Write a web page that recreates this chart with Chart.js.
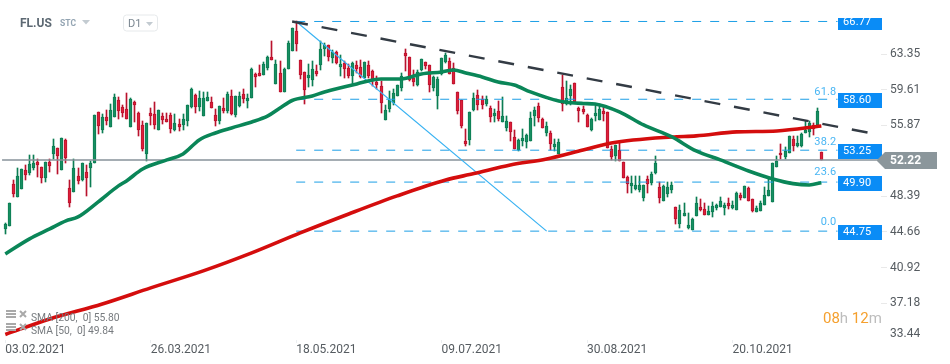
<!DOCTYPE html>
<html><head><meta charset="utf-8">
<style>html,body{margin:0;padding:0;background:#fff}canvas{display:block}</style>
<script src="https://cdn.jsdelivr.net/npm/chart.js@4"></script>
</head><body><canvas id="c" width="950" height="364"></canvas>
<script>
const opens=[
45.01,45.33,49.67,48.37,49.21,51.14,50.89,51.42,52.02,51.49,
50.37,52.02,52.89,53.45,51.21,54.29,49.25,48.90,50.51,50.16,
50.93,51.42,51.94,57.23,55.41,56.74,55.72,56.74,58.53,57.79,
57.58,55.69,58.32,57.16,55.90,52.86,57.16,57.05,55.41,56.85,
56.53,56.95,55.37,56.00,55.90,56.32,57.79,59.05,57.79,56.85,
58.42,58.28,56.92,56.32,57.65,57.37,58.95,56.92,57.86,59.12,
58.42,58.77,61.22,61.36,61.18,61.85,63.04,60.24,61.36,59.40,
61.81,63.67,65.77,62.69,61.43,60.83,60.63,61.57,62.20,63.88,
64.30,62.93,63.56,61.99,62.41,61.88,61.05,62.20,61.99,60.83,
62.20,61.57,60.41,60.00,56.43,57.58,58.21,58.95,59.79,63.46,
63.04,60.83,60.10,61.68,62.52,62.20,59.79,58.95,61.25,62.52,
62.62,61.88,59.37,58.53,54.22,54.32,57.47,59.05,58.63,58.11,
57.69,56.85,57.37,56.22,55.59,56.22,54.64,53.27,54.22,54.11,
54.22,56.85,57.90,56.53,55.06,55.06,53.59,52.86,59.89,58.11,
58.95,60.31,57.69,57.58,56.95,55.37,56.85,56.43,57.37,57.27,
53.38,52.65,53.27,52.02,50.44,49.50,49.18,49.07,48.24,50.23,
49.81,50.86,49.39,47.92,48.66,49.07,47.29,45.50,46.34,45.09,
44.88,46.34,47.29,47.08,46.45,46.76,47.19,47.29,47.19,47.71,
47.19,46.97,48.55,48.24,49.29,48.13,46.76,46.87,47.50,48.44,
47.82,51.49,52.96,52.54,52.96,54.43,53.70,53.70,55.06,55.17,
55.90,55.90,53.07];
const highs=[
45.58,47.68,50.09,51.39,51.25,51.70,52.75,52.75,52.30,51.49,
52.02,52.30,54.40,53.45,54.50,54.40,50.09,52.30,51.35,51.94,
51.70,52.12,56.92,57.27,57.05,57.47,58.10,59.12,58.84,57.97,
59.23,58.74,58.42,57.27,56.32,56.11,57.69,58.32,57.47,57.16,
57.16,57.16,57.05,56.53,57.05,58.00,59.79,59.16,59.47,59.37,
59.37,58.84,57.61,57.90,58.70,59.40,59.54,58.95,59.37,59.68,
59.12,61.85,61.33,62.17,62.52,63.15,64.72,62.69,62.62,61.85,
64.72,66.05,66.77,62.73,61.46,62.27,62.62,62.20,64.72,64.51,
64.30,63.77,63.67,63.25,62.62,62.30,62.52,62.62,62.73,62.52,
62.62,61.68,61.05,60.52,58.00,59.47,59.68,60.10,61.36,63.88,
63.04,61.68,61.68,62.83,62.52,62.20,61.05,60.94,62.94,63.46,
62.94,62.41,59.37,58.53,55.48,57.27,59.26,59.57,58.95,58.95,
57.90,57.58,58.42,58.84,56.85,56.22,55.37,54.43,55.48,54.95,
57.27,57.79,58.21,56.63,56.22,55.27,54.43,54.43,61.15,60.52,
60.10,60.31,57.79,57.90,57.05,56.63,58.00,58.11,57.79,57.27,
53.70,53.80,54.12,52.02,50.55,50.55,50.55,50.55,49.60,50.55,
50.97,52.65,49.92,49.60,49.92,49.92,47.29,47.50,47.71,46.66,
46.13,48.34,48.13,47.71,47.39,47.82,47.61,48.34,47.71,48.24,
47.92,48.87,48.76,49.50,49.39,48.13,47.39,47.92,49.39,50.23,
51.91,52.65,53.90,53.59,54.75,54.75,54.75,55.06,56.32,56.32,
56.11,57.69,53.07];
const lows=[
44.42,45.33,48.37,48.37,49.21,50.09,50.65,51.17,50.47,49.84,
49.95,51.00,52.30,50.79,51.21,51.91,47.32,48.90,49.74,50.05,
48.48,49.42,51.94,54.99,55.09,55.90,55.72,56.74,56.53,56.74,
56.53,55.69,56.22,54.75,53.17,52.12,55.90,55.48,55.41,56.00,
56.22,55.06,55.30,55.27,55.37,55.83,57.69,57.16,57.37,56.85,
58.42,57.65,55.79,55.97,57.19,57.19,56.92,56.77,57.82,58.18,
57.69,58.77,59.92,61.05,61.18,61.68,62.73,60.17,59.40,59.40,
61.81,63.67,63.67,60.70,58.10,59.92,60.00,61.05,61.67,63.15,
62.62,62.41,62.30,61.05,60.83,60.83,60.21,61.36,60.83,60.83,
60.83,59.99,59.68,57.16,56.43,57.27,58.00,58.95,59.47,61.57,
60.52,59.99,59.99,61.57,61.78,59.37,59.47,57.58,61.15,62.41,
61.25,60.21,57.05,55.58,53.69,53.80,57.37,57.47,57.58,57.90,
56.22,56.22,56.32,56.22,55.27,54.22,53.38,53.17,53.69,53.48,
54.22,55.79,56.22,55.59,54.75,53.27,53.17,52.86,57.37,58.00,
58.00,58.21,56.22,57.05,55.69,55.27,56.32,56.43,56.32,53.49,
52.23,52.12,52.12,50.34,48.76,48.76,49.07,48.87,47.92,48.76,
49.60,50.76,47.71,47.92,48.34,48.76,45.50,45.09,46.34,44.98,
44.88,46.34,46.87,46.45,46.45,46.24,46.97,47.29,46.45,47.08,
47.08,46.97,48.03,48.24,47.92,46.76,46.76,46.87,47.50,48.44,
47.82,51.49,52.33,52.33,52.96,53.17,53.59,53.59,55.06,54.64,
54.85,55.69,52.22];
const closes=[
45.47,47.68,48.69,50.51,51.25,50.68,51.80,51.91,51.73,50.37,
52.02,51.63,53.66,52.68,54.50,52.47,47.74,51.35,50.05,51.88,
50.37,51.88,56.92,55.83,56.74,56.32,57.47,58.84,57.37,57.16,
56.53,58.63,58.00,55.41,53.38,56.11,56.85,55.90,57.47,56.43,
56.22,55.48,56.11,55.69,56.53,58.00,59.68,57.79,58.74,58.74,
58.84,57.72,56.32,57.86,57.37,59.12,57.02,58.95,58.95,58.66,
58.70,61.78,60.97,61.05,62.27,63.01,62.73,62.27,59.40,61.75,
64.48,66.05,64.44,61.12,59.61,61.12,61.78,61.25,63.88,64.30,
63.04,63.56,62.41,62.30,61.78,61.05,62.41,61.78,60.94,62.52,
61.05,60.52,60.10,58.21,57.47,58.53,59.26,60.10,61.05,63.15,
60.63,60.41,61.46,62.83,62.10,60.10,60.94,60.73,62.94,63.25,
61.25,60.21,57.37,55.79,53.90,57.27,58.74,58.00,58.00,58.63,
56.74,57.16,56.53,56.85,56.32,55.17,53.38,54.32,54.53,54.85,
56.63,57.47,56.63,55.59,55.80,53.90,53.90,54.12,58.11,58.74,
59.68,58.32,57.37,57.27,55.69,56.53,57.16,57.58,57.05,53.49,
52.54,53.80,52.12,50.34,49.70,49.81,49.60,49.60,49.60,49.70,
50.76,51.91,48.24,49.50,49.39,49.60,46.03,46.97,46.66,45.40,
46.03,47.71,46.97,46.45,46.87,47.39,47.50,47.92,47.50,47.39,
47.50,48.76,48.24,49.50,47.92,46.87,47.19,47.71,48.55,49.07,
51.91,52.12,52.75,53.17,54.75,53.70,54.01,54.95,55.37,56.11,
55.48,57.37,52.22];

const sma50Idx=[0,6,11,15,18,23,28,30,34,40,44,48,52,56,61,65,68,71,76,79,87,93,98,103,108,111,114,118,122,126,130,137,143,146,152,158,165,171,177,184,190,195,199,202];
const sma50Val=[42.35,43.93,44.98,45.82,46.24,47.82,49.50,50.02,51.28,52.23,52.86,54.33,55.06,55.59,56.21,56.85,57.68,58.47,58.95,59.37,60.21,60.73,60.73,61.26,61.47,61.68,61.36,60.94,60.42,60.10,59.37,58.42,58.16,58.10,57.27,55.90,54.64,53.17,52.23,51.07,50.23,49.74,49.60,49.84];
const sma200Idx=[0,11,24,36,49,61,73,85,97,109,116,125,134,143,150,165,171,181,191,202];
const sma200Val=[33.90,35.53,37.10,38.79,40.57,42.46,44.56,46.55,48.45,50.12,50.79,51.70,52.33,53.27,54.01,54.64,54.75,55.17,55.27,55.80];

const trendIdx=[71,213.5];
const trendVal=[66.77,55.10];
const fibDiagIdx=[72,134];
const fibDiagVal=[66.77,44.75];
const fibLevels=[66.77,58.60,53.25,49.90,44.75];
const fibRatios=['','61.8','38.2','23.6','0.0'];
const fibSpan=[72,206];
const lastPrice=52.22;
const priceSpan=[-0.8,216];
const yTicks=[63.35,59.61,55.87,48.39,44.66,40.92,37.18];
const yBottomTick=33.44;
const dateIdx=[0,36,72,108,144,180];
const dateLabels=['03.02.2021','26.03.2021','18.05.2021','09.07.2021','30.08.2021','20.10.2021'];

const GUP='#0c7d53',GUPF='#178f62',RDN='#b9122d',RDNF='#de1f39';
const up=closes.map((c,i)=>c>=opens[i]);
const wickData=highs.map((h,i)=>({x:i,y:[lows[i],h]}));
const bodyData=opens.map((o,i)=>({x:i,y:[Math.min(o,closes[i]),Math.max(o,closes[i])]}));
const pairs=(xs,ys)=>xs.map((x,i)=>({x:x,y:ys[i]}));
const lineBase={type:'line',pointRadius:0,fill:false,borderCapStyle:'butt'};
const datasets=[
 {type:'bar',data:wickData,barThickness:1,grouped:false,backgroundColor:up.map(u=>u?GUP:RDN),borderWidth:0,order:6},
 {type:'bar',data:bodyData,barThickness:3,grouped:false,backgroundColor:up.map(u=>u?GUPF:RDNF),borderColor:up.map(u=>u?GUP:RDN),borderWidth:1,borderSkipped:false,order:5},
 ...fibLevels.map(v=>({...lineBase,data:pairs(fibSpan,[v,v]),borderColor:'#1c9fe6',borderWidth:1,borderDash:[9,9],order:4})),
 {...lineBase,data:pairs(priceSpan,[lastPrice,lastPrice]),borderColor:'#87929a',borderWidth:1.3,order:3.5},
 {...lineBase,data:pairs(fibDiagIdx,fibDiagVal),borderColor:'#38b2f2',borderWidth:1.2,order:3},
 {...lineBase,data:pairs(sma200Idx,sma200Val),borderColor:'#d40d0d',borderWidth:3.6,cubicInterpolationMode:'monotone',order:2},
 {...lineBase,data:pairs(sma50Idx,sma50Val),borderColor:'#0a8658',borderWidth:3.6,cubicInterpolationMode:'monotone',order:1.5},
 {...lineBase,data:pairs(trendIdx,trendVal),borderColor:'#333b44',borderWidth:2.4,borderDash:[16,14],order:1}
];

const snap={id:'snap',beforeDatasetsDraw(ch){
 ch.data.datasets.forEach((d,i)=>{ if(d.type!=='bar')return;
  ch.getDatasetMeta(i).data.forEach(el=>{el.x=Math.floor(el.x)+0.5;el.y=Math.round(el.y);el.base=Math.round(el.base);});});
}};
function tri(ctx,x,y,w,h,col){ctx.fillStyle=col;ctx.beginPath();ctx.moveTo(x,y);ctx.lineTo(x+w,y);ctx.lineTo(x+w/2,y+h);ctx.closePath();ctx.fill();}
function txt(ctx,s,x,y,font,col,align,sp){ctx.font=font;ctx.fillStyle=col;ctx.textAlign=align||'left';ctx.textBaseline='middle';ctx.letterSpacing=sp||'0px';ctx.fillText(s,x,y);ctx.letterSpacing='0px';}
const overlay={id:'overlay',afterDraw(ch){
 const ctx=ch.ctx,Y=ch.scales.y;ctx.save();
 // header
 txt(ctx,'FL.US',20,23.5,'bold 12px Roboto','#5d6973');
 txt(ctx,'STC',60,24,'bold 8.5px Roboto','#93a4b2');
 tri(ctx,82,20,8,4.5,'#c3cbd1');
 ctx.strokeStyle='#e6e9eb';ctx.lineWidth=1;ctx.beginPath();ctx.roundRect(123.5,15,34,16,3);ctx.stroke();
 txt(ctx,'D1',128,24,'11px Roboto','#7b8791');
 tri(ctx,146,22,7,4,'#c3cbd1');
 // fib tags
 const boxes=[[18,30],[93,108],[144,159],[176,191],[225,240]];
 const ratioY=[0,92.5,142.5,172.5,222.5];
 fibLevels.forEach((v,i)=>{
  const b=boxes[i];
  ctx.fillStyle='#0a8cf6';ctx.fillRect(838,b[0],44,b[1]-b[0]);
  txt(ctx,v.toFixed(2),843,(i===0?22:(b[0]+b[1])/2-0.7),'11px Roboto','#ffffff','left','0.15px');
  if(fibRatios[i])txt(ctx,fibRatios[i],836.5,ratioY[i],'11px Roboto','#49b6f4','right','0.2px');
 });
 // last price tag
 const py=Y.getPixelForValue(lastPrice);
 ctx.fillStyle='#8b969b';ctx.beginPath();ctx.moveTo(877,py);ctx.lineTo(885,py-8);ctx.lineTo(937,py-8);ctx.lineTo(937,py+9);ctx.lineTo(885,py+9);ctx.lineTo(877,py+1);ctx.closePath();ctx.fill();
 txt(ctx,lastPrice.toFixed(2),890,py+0.5,'bold 12px Roboto','#ffffff');
 // clamped bottom tick label
 txt(ctx,yBottomTick.toFixed(2),890,334,'12px Roboto','#555b60');
 // countdown
 let x=823;const tf='15px Roboto';ctx.font=tf;
 [['08','#f5a02e'],['h','#bdbdbd'],[' ',''],['12','#f5a02e'],['m','#bdbdbd']].forEach(p=>{
  ctx.font=tf;const w=ctx.measureText(p[0]).width;if(p[1])txt(ctx,p[0],x,319.5,tf,p[1]);x+=w;});
 // SMA legend
 [[318,'SMA [200,  0] 55.80'],[331,'SMA [50,  0] 49.84']].forEach(r=>{
  const yy=r[0];ctx.fillStyle='#a9a9a9';
  ctx.fillRect(6,yy-8,10,2);ctx.fillRect(6,yy-5,10,2);ctx.fillRect(6,yy-2,10,2);
  ctx.strokeStyle='#a9a9a9';ctx.lineWidth=2;ctx.beginPath();ctx.moveTo(20,yy-7);ctx.lineTo(26,yy-1);ctx.moveTo(26,yy-7);ctx.lineTo(20,yy-1);ctx.stroke();
  txt(ctx,r[1],31,yy+0.5,'10.3px Roboto','#777b7f');
 });
 ctx.restore();
}};
Chart.defaults.animation=false;
new Chart(document.getElementById('c'),{
 type:'bar',
 data:{datasets},
 plugins:[snap,overlay],
 options:{
  responsive:false,animation:false,
  layout:{padding:0},
  plugins:{legend:{display:false},tooltip:{enabled:false}},
  events:[],
  scales:{
   x:{type:'linear',min:-1.312,max:216.76,offset:false,bounds:'data',
    grid:{display:true,offset:false,drawOnChartArea:false,drawTicks:true,tickLength:3,color:'#eceff1'},border:{display:false},
    afterBuildTicks:a=>{a.ticks=dateIdx.map(v=>({value:v}));},
    afterFit:s=>{s.height=24;s.paddingLeft=0;s.paddingRight=0;},
    ticks:{autoSkip:false,maxRotation:0,minRotation:0,align:'start',padding:0,color:'#555b60',font:{family:'Roboto',size:12},callback:(v,i)=>dateLabels[i]}},
   y:{type:'linear',position:'right',min:33.315,max:69.025,bounds:'data',
    grid:{display:true,drawOnChartArea:false,drawTicks:true,tickLength:6,color:'#e9e9e9'},border:{display:false},
    afterBuildTicks:a=>{a.ticks=yTicks.map(v=>({value:v}));},
    afterFit:s=>{s.width=69;s.paddingTop=0;s.paddingBottom=0;},
    ticks:{autoSkip:false,padding:3,color:'#555b60',font:{family:'Roboto',size:12},callback:v=>v.toFixed(2)}}
  }
 }
});
</script></body></html>
